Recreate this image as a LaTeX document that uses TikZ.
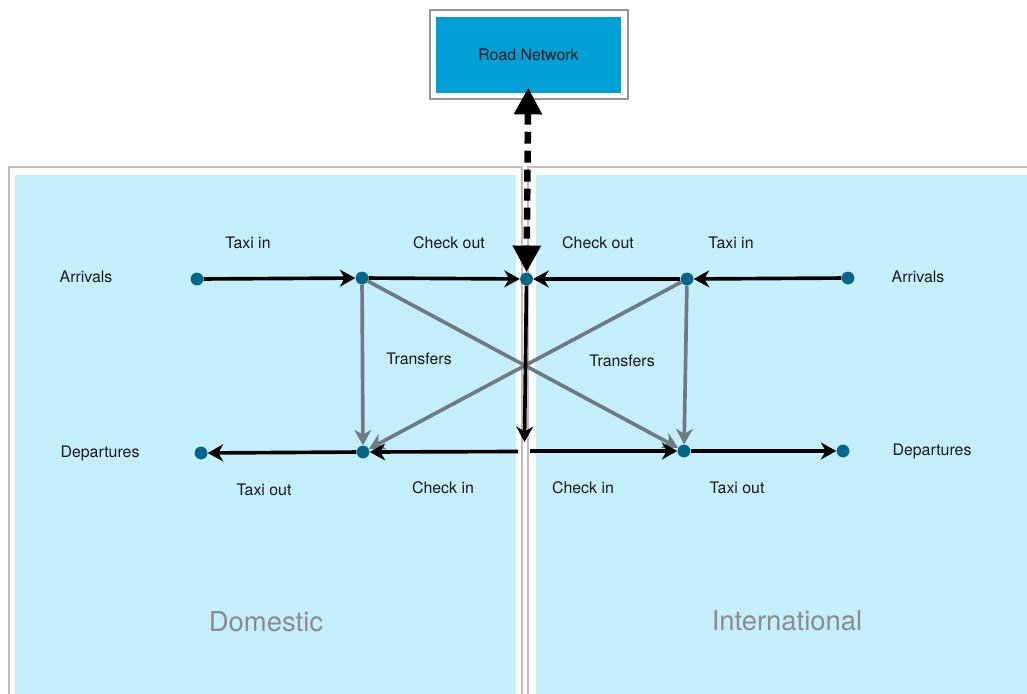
\documentclass[tikz,border=0pt]{standalone}
\usepackage{fontspec}
\setmainfont{TeX Gyre Heros}
\usepackage{xcolor}
\definecolor{roadblue}{RGB}{0, 160, 214}
\definecolor{panelblue}{RGB}{198, 239, 253}
\definecolor{framegray}{RGB}{190, 190, 190}
\definecolor{boxgray}{RGB}{150, 150, 150}
\definecolor{hubblue}{RGB}{0, 103, 138}
\definecolor{transgray}{RGB}{110, 123, 132}
\definecolor{zonegray}{RGB}{140, 140, 140}
\usetikzlibrary{arrows.meta, positioning}

\begin{document}
\begin{tikzpicture}[x=0.025cm, y=-0.025cm,
    hub/.style={circle, fill=hubblue, inner sep=0pt, minimum size=0.32cm},
    flow/.style={line width=2.6pt, -{Stealth[length=11pt, width=12pt, inset=3.5pt]}},
    transfer/.style={line width=2.6pt, transgray, -{Stealth[length=11pt, width=12pt, inset=3.5pt]}},
    lbl/.style={font=\fontsize{11.3}{13}\selectfont, text=black!90},
    zone/.style={font=\fontsize{19.5}{23}\selectfont, text=zonegray}]
      \useasboundingbox (0,0) rectangle (1027,693);
      \clip (0,0) rectangle (1027,693);
      % Panels
      \draw[framegray, line width=1.4pt] (9,167) rectangle (522,730);
      \fill[panelblue] (15,175) rectangle (516,730);
      \draw[framegray, line width=1.4pt] (528,167) rectangle (1070,730);
      \fill[panelblue] (536,175) rectangle (1070,730);
      % Road network
      \draw[boxgray, line width=1.4pt] (430,10) rectangle (628,99);
      \node[fill=roadblue, inner sep=0pt, minimum width=4.625cm, minimum height=1.9cm, lbl] (road) at (528.5,55) {Road Network};
      % Hubs
      \node[hub] (darr) at (197,279) {};
      \node[hub] (dtop) at (362,278) {};
      \node[hub] (ctr) at (526.5,279) {};
      \node[hub] (itop) at (687,279) {};
      \node[hub] (iarr) at (848,278) {};
      \node[hub] (ddep) at (201,453) {};
      \node[hub] (dbot) at (363,452) {};
      \node[hub] (ibot) at (684,451) {};
      \node[hub] (idep) at (843,451) {};
      \coordinate (ctrdown) at (524.5,442);
      \coordinate (dgap) at (518,451.5);
      \coordinate (igap) at (530,451);
      % Transfers
      \draw[transfer] (dtop) -- (dbot);
      \draw[transfer] (itop) -- (ibot);
      \draw[transfer] (dtop) -- (ibot);
      \draw[transfer] (itop) -- (dbot);
      % Arrivals
      \draw[flow] (darr) -- (dtop);
      \draw[flow] (dtop) -- (ctr);
      \draw[flow] (iarr) -- (itop);
      \draw[flow] (itop) -- (ctr);
      \draw[flow] (ctr) -- (ctrdown);
      % Departures
      \draw[flow] (dgap) -- (dbot);
      \draw[flow] (dbot) -- (ddep);
      \draw[flow] (igap) -- (ibot);
      \draw[flow] (ibot) -- (idep);
      % Link to road network
      \draw[line width=4.6pt, dash pattern=on 8.5pt off 5pt, shorten <=-4pt,
        {Triangle[length=19pt, width=19pt]}-{Triangle[length=19pt, width=19pt]}] (road) -- (ctr);
      % Labels
      \node[lbl] (ltaxiind) at (248,243) {Taxi in};
      \node[lbl] (lcheckoutd) at (449,243) {Check out};
      \node[lbl] (lcheckouti) at (598,243) {Check out};
      \node[lbl] (ltaxiini) at (731,243) {Taxi in};
      \node[lbl] (larrd) at (86,277) {Arrivals};
      \node[lbl] (larri) at (918,277) {Arrivals};
      \node[lbl] (ltransd) at (419,359) {Transfers};
      \node[lbl] (ltransi) at (622,361) {Transfers};
      \node[lbl] (ldepd) at (100,453) {Departures};
      \node[lbl] (ldepi) at (932,451) {Departures};
      \node[lbl] (ltaxioutd) at (264,490) {Taxi out};
      \node[lbl] (lcheckind) at (443,488) {Check in};
      \node[lbl] (lcheckini) at (583,488) {Check in};
      \node[lbl] (ltaxiouti) at (737,488) {Taxi out};
      \node[zone] (ldom) at (266,622) {Domestic};
      \node[zone] (lint) at (787,621) {International};
\end{tikzpicture}
\end{document}
